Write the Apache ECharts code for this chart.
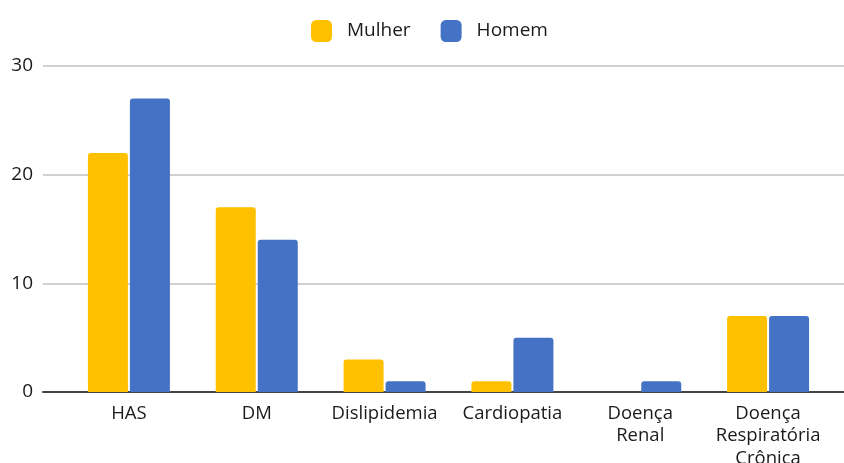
<!DOCTYPE html>
<html><head><meta charset="utf-8">
<script src="https://cdn.jsdelivr.net/npm/echarts@6/dist/echarts.min.js"></script>
<style>html,body{margin:0;padding:0;background:#fff}#c{width:844px;height:463px}</style>
</head><body><div id="c"></div>
<script>
const categories = ['HAS', 'DM', 'Dislipidemia', 'Cardiopatia', 'Doença\nRenal', 'Doença\nRespiratória\nCrônica'];
const mulher = [22, 17, 3, 1, 0, 7];
const homem = [27, 14, 1, 5, 1, 7];
const yTicks = [0, 10, 20, 30];

const FONT = 'Open Sans';
const chart = echarts.init(document.getElementById('c'));
chart.setOption({
  animation: false,
  textStyle: { fontFamily: FONT },
  legend: {
    top: 15, left: 306,
    itemWidth: 21, itemHeight: 22, itemGap: 30,
    icon: 'roundRect',
    textStyle: { fontSize: 19, color: '#1a1a1a', fontFamily: FONT, padding: [0, 0, 0, 10] },
    data: ['Mulher', 'Homem']
  },
  grid: [
    { left: 43, right: 0, top: 66, bottom: 71, outerBoundsMode: 'none', containLabel: false },
    { left: 65, right: 12, top: 66, bottom: 71, outerBoundsMode: 'none', containLabel: false }
  ],
  xAxis: [
    { type: 'value', gridIndex: 0, min: 0, max: 1, show: true,
      axisLine: { show: true, onZero: false, lineStyle: { color: '#444', width: 2 } },
      axisTick: { show: false }, axisLabel: { show: false }, splitLine: { show: false } },
    { type: 'category', gridIndex: 1, data: categories,
      axisLine: { show: false }, axisTick: { show: false },
      axisLabel: { fontSize: 18.5, color: '#1a1a1a', margin: 10, lineHeight: 22.5, fontFamily: FONT, interval: 0 } }
  ],
  yAxis: [
    { type: 'value', gridIndex: 0, min: yTicks[0], max: yTicks[yTicks.length - 1], interval: 10,
      axisLine: { show: false }, axisTick: { show: false },
      axisLabel: { fontSize: 19, color: '#1a1a1a', margin: 10, fontFamily: FONT },
      splitLine: { lineStyle: { color: '#d0d0d0', width: 2 } } },
    { type: 'value', gridIndex: 1, min: 0, max: 30, interval: 10, show: false,
      splitLine: { show: false } }
  ],
  series: [
    { name: 'Mulher', type: 'bar', xAxisIndex: 1, yAxisIndex: 1, data: mulher,
      barWidth: 40, barGap: '5%', itemStyle: { color: '#FFC000', borderRadius: [3, 3, 0, 0] } },
    { name: 'Homem', type: 'bar', xAxisIndex: 1, yAxisIndex: 1, data: homem,
      barWidth: 40, barGap: '5%', itemStyle: { color: '#4472C4', borderRadius: [3, 3, 0, 0] } }
  ]
});
</script></body></html>
